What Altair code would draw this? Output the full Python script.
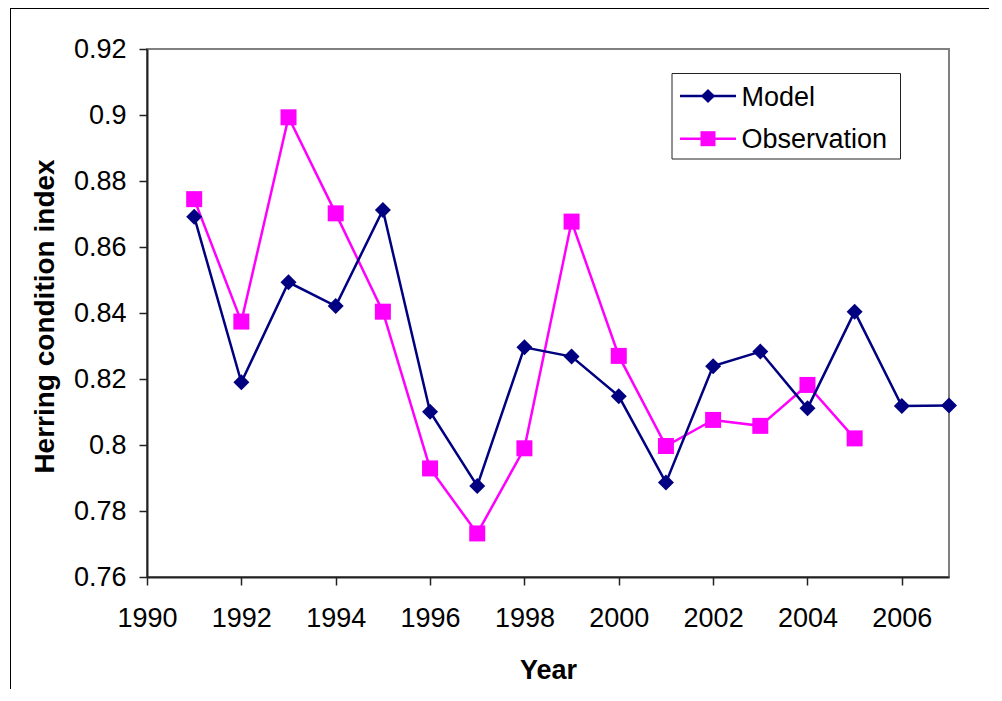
import altair as alt
import pandas as pd

years = list(range(1991, 2008))
model = [0.8692, 0.8190, 0.8493, 0.8421, 0.8712, 0.8101, 0.7876, 0.8296, 0.8268,
         0.8148, 0.7886, 0.8239, 0.8283, 0.8111, 0.8404, 0.8118, 0.8120]
observation = [0.8745, 0.8374, 0.8993, 0.8702, 0.8404, 0.7929, 0.7732, 0.7990, 0.8677,
               0.8270, 0.7997, 0.8076, 0.8058, 0.8182, 0.8020, None, None]
series_names = ["Model", "Observation"]
series_colors = ["#000080", "#FF00FF"]
series_shapes = ["diamond", "square"]
x_ticks = [1990, 1992, 1994, 1996, 1998, 2000, 2002, 2004, 2006]
y_ticks = [0.76, 0.78, 0.80, 0.82, 0.84, 0.86, 0.88, 0.90, 0.92]
x_title = "Year"
y_title = "Herring condition index"

W, H = 802, 528
FONT = "Liberation Sans"

rows = []
for y, m, o in zip(years, model, observation):
    rows.append({"Year": y, "Series": "Model", "Index": m})
    if o is not None:
        rows.append({"Year": y, "Series": "Observation", "Index": o})
df = pd.DataFrame(rows)

xs = alt.X("Year:Q", scale=alt.Scale(domain=[1990, 2007], nice=False, zero=False),
           axis=alt.Axis(values=x_ticks, format="d", title=x_title, tickSize=8,
                         labelPadding=20, titleX=W / 2, titleY=101,
                         titleBaseline="alphabetic", titleAlign="center"))
ys = alt.Y("Index:Q", scale=alt.Scale(domain=[0.76, 0.92], nice=False, zero=False),
           axis=alt.Axis(values=y_ticks, format="~g", title=y_title, tickSize=8,
                         labelPadding=13, titleX=-94, titleY=267, titleAngle=270,
                         titleBaseline="alphabetic", titleAlign="center"))

layers = []
# draw Observation first, Model on top
for name, col, shp in reversed(list(zip(series_names, series_colors, series_shapes))):
    base = alt.Chart(df).transform_filter(alt.datum.Series == name)
    layers.append(base.mark_line(color=col, strokeWidth=2.5).encode(x=xs, y=ys, order="Year:Q"))
    layers.append(base.mark_point(shape=shp, filled=True, opacity=1, size=256, color=col)
                  .encode(x=xs, y=ys))

one = pd.DataFrame({"k": [0]})
# outer frame (left and top edges)
frame_left = alt.Chart(one).mark_rule(color="black", strokeWidth=1).encode(
    x=alt.value(-136.5), y=alt.value(-41), y2=alt.value(H + 112))
frame_top = alt.Chart(one).mark_rule(color="black", strokeWidth=1).encode(
    x=alt.value(-137), x2=alt.value(W + 40), y=alt.value(-40.5))

# legend
legend_box = alt.Chart(one).mark_rect(fill="white", stroke="#222222", strokeWidth=1).encode(
    x=alt.value(525), x2=alt.value(753.5), y=alt.value(24.5), y2=alt.value(110))
legend_layers = [legend_box]
row_y = [47, 89.7]
for i, (name, col, shp) in enumerate(zip(series_names, series_colors, series_shapes)):
    ld = pd.DataFrame({"label": [name]})
    legend_layers.append(alt.Chart(ld).mark_rule(color=col, strokeWidth=2.5).encode(
        x=alt.value(533), x2=alt.value(589), y=alt.value(row_y[i])))
    legend_layers.append(alt.Chart(ld).mark_point(shape=shp, filled=True, opacity=1,
                                                  size=200 if shp == "diamond" else 225,
                                                  color=col).encode(
        x=alt.value(561), y=alt.value(row_y[i])))
    legend_layers.append(alt.Chart(ld).mark_text(align="left", baseline="alphabetic",
                                                 font=FONT, fontSize=27, color="black").encode(
        x=alt.value(594.5), y=alt.value(row_y[i] + 9.7), text="label:N"))

chart = alt.layer(frame_left, frame_top, *layers, *legend_layers).properties(
    width=W, height=H,
    autosize=alt.AutoSizeParams(type="none"),
    padding={"left": 139, "top": 41, "right": 40, "bottom": 112},
    background="white",
).configure_view(
    stroke="#808080", strokeWidth=2
).configure_axis(
    grid=False,
    labelFont=FONT, labelFontSize=27, labelColor="black",
    titleFont=FONT, titleFontSize=27, titleFontWeight="bold", titleColor="black",
    domainColor="#222222", domainWidth=2, tickColor="#222222", tickWidth=1.5,
    labelFlush=False, labelOverlap=False,
).configure_axisY(titleFontSize=28)

chart.save("out.html", embed_options={"renderer": "svg", "actions": False})
